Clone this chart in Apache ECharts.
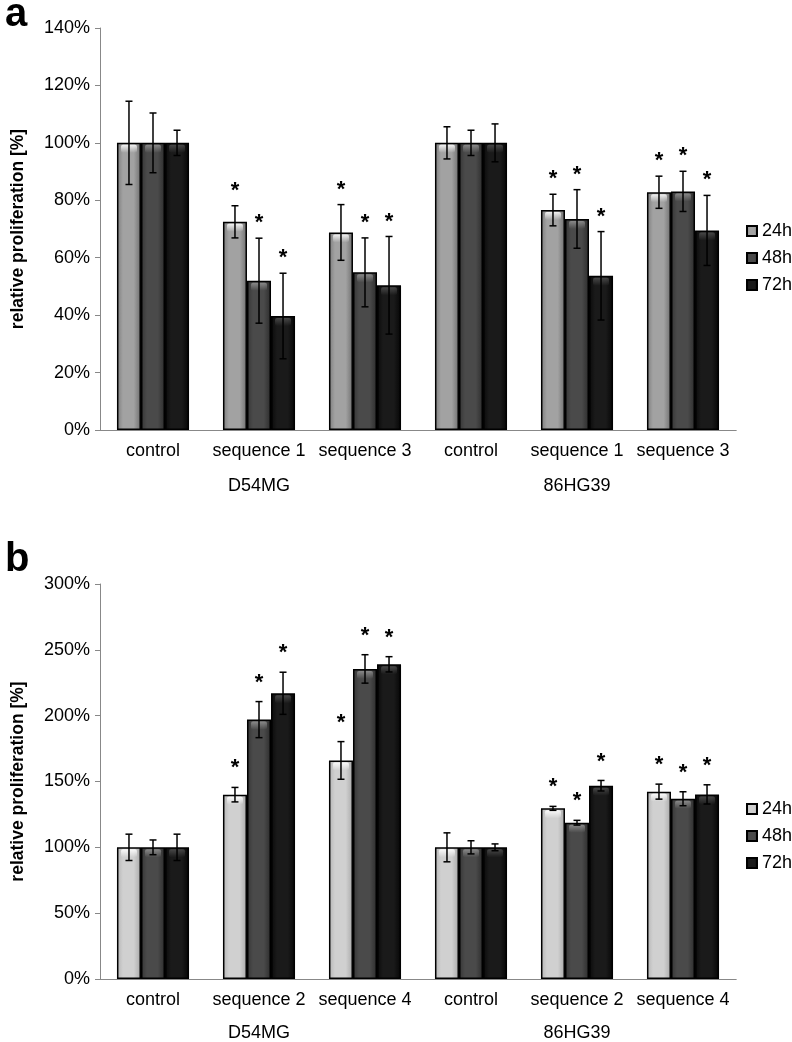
<!DOCTYPE html>
<html>
<head>
<meta charset="utf-8">
<script src="https://cdn.jsdelivr.net/npm/echarts@6/dist/echarts.min.js"></script>
<style>
  html, body { margin: 0; padding: 0; background: #fff; }
  #chartA, #chartB { width: 792px; height: 521px; }
</style>
</head>
<body>
<div id="chartA"></div>
<div id="chartB"></div>
<script>
// ---- data ----
var groups = ['D54MG', '86HG39'];
var timeNames = ['24h', '48h', '72h'];

var catsA = ['control', 'sequence 1', 'sequence 3', 'control', 'sequence 1', 'sequence 3'];
var a24 = [100, 72.5, 68.8, 100, 76.6, 82.8];
var a24err = [14.5, 5.6, 9.7, 5.6, 5.5, 5.6];
var a48 = [100, 52, 54.9, 100, 73.5, 83.1];
var a48err = [10.4, 14.8, 12, 4.4, 10.2, 7];
var a72 = [100, 39.7, 50.4, 100, 53.7, 69.5];
var a72err = [4.4, 14.9, 17, 6.6, 15.4, 12.2];
var aSig = [0, 1, 1, 0, 1, 1];
var aTicks = [0, 140, 20];

var catsB = ['control', 'sequence 2', 'sequence 4', 'control', 'sequence 2', 'sequence 4'];
var b24 = [100, 140, 166, 100, 129.6, 142.3];
var b24err = [10, 5.5, 14.3, 11, 1.5, 5.7];
var b48 = [100, 197, 235.5, 100, 118.7, 136.9];
var b48err = [5.6, 13.7, 10.8, 5, 1.8, 5.3];
var b72 = [100, 217, 239, 100, 146.8, 140.2];
var b72err = [10, 16, 5.8, 2.6, 4, 7.3];
var bSig = [0, 1, 1, 0, 1, 1];
var bTicks = [0, 300, 50];

var FONT = '"Liberation Sans", Arial, sans-serif';

function grad(c1, c2, c3) {
    return new echarts.graphic.LinearGradient(0, 0, 1, 0, [
        { offset: 0, color: c1 }, { offset: 0.25, color: c2 },
        { offset: 0.7, color: c2 }, { offset: 1, color: c3 }
    ]);
}

function buildChart(el, opt) {
    var chart = echarts.init(document.getElementById(el));
    var gap = 0.32;
    var series = [];
    opt.values.forEach(function (vals, k) {
        series.push({
            type: 'bar', name: timeNames[k], data: vals,
            barGap: '0%', barCategoryGap: (gap * 100) + '%',
            itemStyle: { color: opt.colors[k], borderColor: '#000', borderWidth: 1.5 },
            z: 2
        });
    });
    opt.values.forEach(function (vals, k) {
        var errs = opt.errors[k];
        series.push({
            type: 'custom', z: 3, silent: true,
            data: vals.map(function (v, i) { return [i, v, errs[i], opt.sig[i]]; }),
            encode: { x: 0, y: 1 },
            renderItem: function (params, api) {
                var idx = api.value(0), v = api.value(1), e = api.value(2), s = api.value(3);
                var band = api.size([1, 0])[0];
                var bw = band * (1 - gap) / 3;
                var cx = api.coord([idx, v])[0] + (k - 1) * bw;
                var yv = api.coord([idx, v])[1];
                var yt = api.coord([idx, v + e])[1];
                var yb = api.coord([idx, v - e])[1];
                var hl = opt.highlight[k];
                var ch = [
                    { type: 'rect', shape: { x: cx - bw / 2 + 4, y: yv + 2, width: bw - 8, height: 8, r: 2 },
                      style: { fill: new echarts.graphic.LinearGradient(0, 0, 0, 1, [
                          { offset: 0, color: 'rgba(255,255,255,' + hl + ')' },
                          { offset: 1, color: 'rgba(255,255,255,0)' }]) } },
                    { type: 'line', shape: { x1: cx, y1: yt, x2: cx, y2: yb }, style: { stroke: '#000', lineWidth: 1.5 } },
                    { type: 'line', shape: { x1: cx - 3.5, y1: yt, x2: cx + 3.5, y2: yt }, style: { stroke: '#000', lineWidth: 1.5 } },
                    { type: 'line', shape: { x1: cx - 3.5, y1: yb, x2: cx + 3.5, y2: yb }, style: { stroke: '#000', lineWidth: 1.5 } }
                ];
                if (s) {
                    ch.push({ type: 'text', x: cx, y: yt - opt.starGap,
                        style: { text: '*', font: 'bold 22px ' + FONT, fill: '#000', align: 'center', verticalAlign: 'middle' } });
                }
                return { type: 'group', children: ch };
            }
        });
    });

    chart.setOption({
        animation: false,
        textStyle: { fontFamily: FONT },
        title: { text: opt.letter, left: 0, top: opt.letterTop,
            textStyle: { fontSize: 40, fontWeight: 'bold', color: '#000', fontFamily: FONT } },
        legend: {
            data: timeNames, orient: 'vertical', left: 741, top: opt.legendTop,
            itemWidth: 10, itemHeight: 10, itemGap: 9, icon: 'rect',
            textStyle: { fontSize: 18, color: '#000' }
        },
        grid: { left: 100, right: 56, top: opt.gridTop, bottom: opt.gridBottom },
        xAxis: [{
            type: 'category', data: opt.cats,
            axisLine: { lineStyle: { color: '#888', width: 1 } },
            axisTick: { interval: 0, length: opt.shortTick, lineStyle: { color: '#888' } },
            axisLabel: { interval: 0, fontSize: 18, color: '#000', margin: 12 }
        }, {
            type: 'category', data: groups, position: 'bottom',
            axisLine: { lineStyle: { color: '#888', width: 1 } },
            axisTick: { interval: 0, length: 68, lineStyle: { color: '#888' } },
            axisLabel: { interval: 0, fontSize: 18, color: '#000', margin: opt.groupMargin }
        }],
        yAxis: {
            type: 'value', min: opt.ticks[0], max: opt.ticks[1], interval: opt.ticks[2],
            name: 'relative proliferation [%]', nameLocation: 'middle', nameGap: 73, nameRotate: 90,
            nameTextStyle: { fontSize: 17.5, fontWeight: 'bold', color: '#000' },
            axisLine: { show: true, lineStyle: { color: '#888' } },
            axisTick: { show: true, length: 5, lineStyle: { color: '#888' } },
            axisLabel: { formatter: '{value}%', fontSize: 18, color: '#000', margin: 10 },
            splitLine: { show: false }
        },
        series: series
    });
    return chart;
}

buildChart('chartA', {
    letter: 'a', letterTop: -10, cats: catsA, ticks: aTicks,
    values: [a24, a48, a72], errors: [a24err, a48err, a72err], sig: aSig,
    colors: [grad('#7c7c7c', '#a2a2a2', '#6e6e6e'), grad('#353535', '#4a4a4a', '#2c2c2c'), grad('#0a0a0a', '#1a1a1a', '#050505')],
    highlight: [0.85, 0.35, 0.2],
    gridTop: 28, gridBottom: 91, legendTop: 217, shortTick: 25, groupMargin: 47, starGap: 15
});

buildChart('chartB', {
    letter: 'b', letterTop: 14, cats: catsB, ticks: bTicks,
    values: [b24, b48, b72], errors: [b24err, b48err, b72err], sig: bSig,
    colors: [grad('#b4b4b4', '#d0d0d0', '#a8a8a8'), grad('#353535', '#4a4a4a', '#2c2c2c'), grad('#0a0a0a', '#1a1a1a', '#050505')],
    highlight: [0.9, 0.35, 0.2],
    gridTop: 63, gridBottom: 62.5, legendTop: 274, shortTick: 32, groupMargin: 45, starGap: 19
});
</script>
</body>
</html>
